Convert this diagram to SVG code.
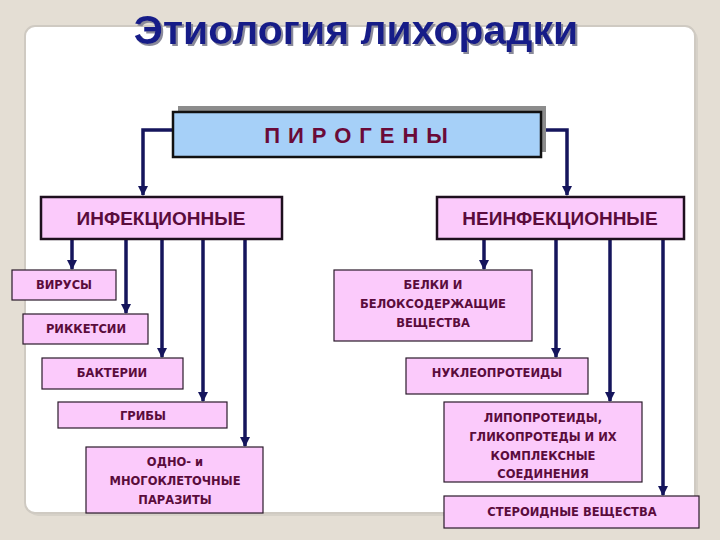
<svg xmlns="http://www.w3.org/2000/svg" width="720" height="540" viewBox="0 0 720 540">
<defs>
<style>
.bg{fill:#e4ded4}
.panel{fill:#ffffff;stroke:#cfcac2;stroke-width:2}
.main{fill:#fbcafb;stroke:#1e0f1e;stroke-width:2.5}
.child{fill:#fbcafb;stroke:#2a1a2a;stroke-width:1.2}
.mt{font-family:"Liberation Sans",Arial,sans-serif;font-weight:bold;font-size:19px;fill:#5a0c3c;text-anchor:middle}
.ct{font-family:"DejaVu Sans",sans-serif;font-weight:bold;font-size:11.5px;fill:#5a0c3c;text-anchor:middle}
.conn{fill:none;stroke:#15155c;stroke-width:3.5}
</style>
<filter id="sh" x="-5%" y="-20%" width="110%" height="150%">
<feOffset in="SourceAlpha" dx="2" dy="2" result="o"/>
<feFlood flood-color="#8a8a9a"/>
<feComposite in2="o" operator="in" result="s"/>
<feMerge><feMergeNode in="s"/><feMergeNode in="SourceGraphic"/></feMerge>
</filter>
<marker id="ah" viewBox="0 0 10 10" refX="9" refY="5" markerWidth="3" markerHeight="3" orient="auto" markerUnits="strokeWidth">
<path d="M0,0 L10,5 L0,10 Z" fill="#15155c"/>
</marker>
</defs>
<rect class="bg" x="0" y="0" width="720" height="540"/>
<rect x="28" y="29" width="670" height="487" rx="10" fill="#d6d1c8"/>
<rect class="panel" x="25" y="26" width="670" height="487" rx="10"/>
<g id="title">
<text x="356" y="44" font-family="Liberation Sans,Arial,sans-serif" font-weight="bold" font-size="41" fill="#161c88" text-anchor="middle" filter="url(#sh)">Этиология лихорадки</text>
</g>
<g id="connectors">
<polyline class="conn" points="173,130 143,130 143,195" marker-end="url(#ah)"/>
<polyline class="conn" points="541,130 567,130 567,195" marker-end="url(#ah)"/>
<line class="conn" x1="72" y1="239" x2="72" y2="269" marker-end="url(#ah)"/>
<line class="conn" x1="126" y1="239" x2="126" y2="313" marker-end="url(#ah)"/>
<line class="conn" x1="162" y1="239" x2="162" y2="357" marker-end="url(#ah)"/>
<line class="conn" x1="203" y1="239" x2="203" y2="401" marker-end="url(#ah)"/>
<line class="conn" x1="245" y1="239" x2="245" y2="446" marker-end="url(#ah)"/>
<line class="conn" x1="484" y1="239" x2="484" y2="269" marker-end="url(#ah)"/>
<line class="conn" x1="556" y1="239" x2="556" y2="357" marker-end="url(#ah)"/>
<line class="conn" x1="610" y1="239" x2="610" y2="401" marker-end="url(#ah)"/>
<line class="conn" x1="663" y1="239" x2="663" y2="495" marker-end="url(#ah)"/>
</g>
<g id="pirogeny">
<rect x="178" y="106" width="368" height="46" fill="#8c8c8c"/>
<rect x="173" y="112" width="368" height="45" fill="#a6d0f8" stroke="#111" stroke-width="2.5"/>
<text x="360" y="143" font-family="Liberation Sans,Arial,sans-serif" font-weight="bold" font-size="22" fill="#6a0a38" text-anchor="middle" letter-spacing="8">ПИРОГЕНЫ</text>
</g>
<g id="infect">
<rect class="main" x="41" y="197" width="241" height="42"/>
<text class="mt" x="161" y="225">ИНФЕКЦИОННЫЕ</text>
</g>
<g id="noninfect">
<rect class="main" x="437" y="197" width="247" height="42"/>
<text class="mt" x="560" y="225">НЕИНФЕКЦИОННЫЕ</text>
</g>
<g id="viruses">
<rect class="child" x="12" y="270" width="104" height="30"/>
<text class="ct" x="64" y="289">ВИРУСЫ</text>
</g>
<g id="rickettsia">
<rect class="child" x="23" y="314" width="125" height="30"/>
<text class="ct" x="86" y="333">РИККЕТСИИ</text>
</g>
<g id="bacteria">
<rect class="child" x="42" y="358" width="141" height="31"/>
<text class="ct" x="112" y="377">БАКТЕРИИ</text>
</g>
<g id="fungi">
<rect class="child" x="58" y="402" width="169" height="26"/>
<text class="ct" x="143" y="420">ГРИБЫ</text>
</g>
<g id="parasites">
<rect class="child" x="86" y="447" width="177" height="66"/>
<text class="ct" x="175" y="466">ОДНО- и</text>
<text class="ct" x="175" y="485">МНОГОКЛЕТОЧНЫЕ</text>
<text class="ct" x="175" y="504">ПАРАЗИТЫ</text>
</g>
<g id="proteins">
<rect class="child" x="334" y="270" width="198" height="71"/>
<text class="ct" x="433" y="289">БЕЛКИ  И</text>
<text class="ct" x="433" y="308">БЕЛОКСОДЕРЖАЩИЕ</text>
<text class="ct" x="433" y="327">ВЕЩЕСТВА</text>
</g>
<g id="nucleo">
<rect class="child" x="406" y="358" width="182" height="36"/>
<text class="ct" x="497" y="377">НУКЛЕОПРОТЕИДЫ</text>
</g>
<g id="lipo">
<rect class="child" x="444" y="402" width="198" height="80"/>
<text class="ct" x="543" y="422">ЛИПОПРОТЕИДЫ,</text>
<text class="ct" x="543" y="441">ГЛИКОПРОТЕДЫ И ИХ</text>
<text class="ct" x="543" y="460">КОМПЛЕКСНЫЕ</text>
<text class="ct" x="543" y="478">СОЕДИНЕНИЯ</text>
</g>
<g id="steroids">
<rect class="child" x="444" y="496" width="255" height="32"/>
<text class="ct" x="572" y="516">СТЕРОИДНЫЕ  ВЕЩЕСТВА</text>
</g>
</svg>
